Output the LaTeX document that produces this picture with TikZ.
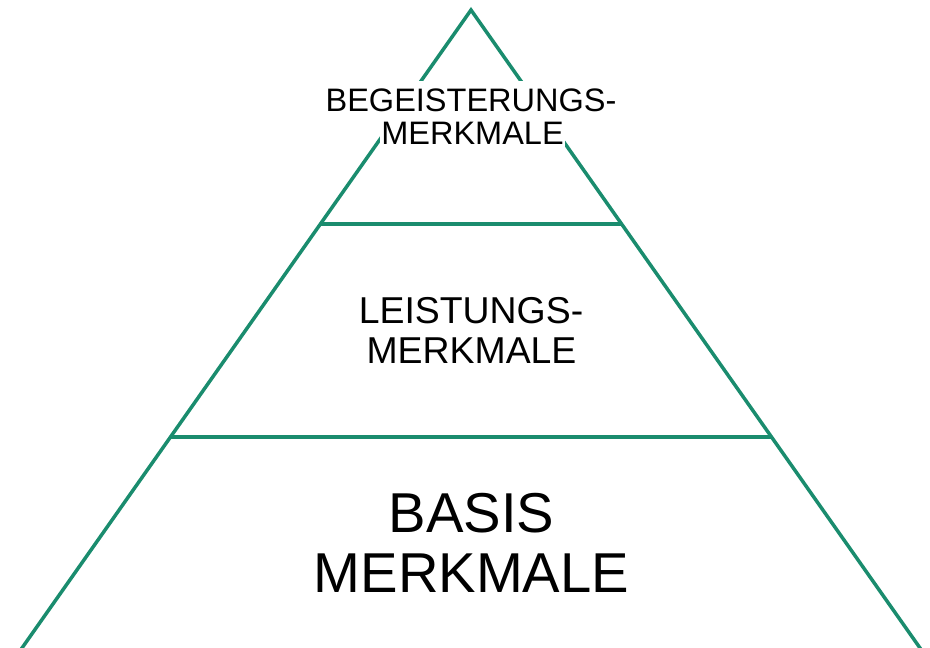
\documentclass[tikz,border=0pt]{standalone}
\usepackage{fontspec}
\setmainfont{Liberation Sans}
\usetikzlibrary{calc}
\definecolor{pyramidgreen}{RGB}{26,140,110}
\begin{document}
\begin{tikzpicture}[x=1pt,y=-1pt,
  edge/.style={draw=pyramidgreen,line width=3.5pt,line join=miter},
  toplabel/.style={anchor=base,fill=white,inner xsep=1pt,font=\fontsize{32.5}{34}\selectfont},
  midlabel/.style={anchor=base,inner sep=0pt,font=\fontsize{37.4}{40}\selectfont},
  baselabel/.style={anchor=base,inner sep=0pt,font=\fontsize{56.2}{59}\selectfont}]
  \useasboundingbox (0,0) rectangle (930,648);
  \clip (0,0) rectangle (930,648);
  % outline of the pyramid
  \coordinate (apex) at (471,10);
  \coordinate (bl) at (22,648);
  \coordinate (br) at (920,648);
  \coordinate (blx) at ($(apex)!1.05!(bl)$);
  \coordinate (brx) at ($(apex)!1.05!(br)$);
  \path[edge] (blx) -- (apex) -- (brx);
  % level separators
  \coordinate (l1) at ($(apex)!0.3354!(bl)$);
  \coordinate (r1) at ($(apex)!0.3354!(br)$);
  \coordinate (l2) at ($(apex)!0.6693!(bl)$);
  \coordinate (r2) at ($(apex)!0.6693!(br)$);
  \path[edge] (l1) -- (r1);
  \path[edge] (l2) -- (r2);
  % labels
  \node[toplabel,inner ysep=8pt] (top1) at (471,111.5) {BEGEISTERUNGS-};
  \node[toplabel,inner ysep=2pt] (top2) at (472.5,144.5) {MERKMALE};
  \node[midlabel] (mid1) at (471,323) {LEISTUNGS-};
  \node[midlabel] (mid2) at (471.5,363) {MERKMALE};
  \node[baselabel] (base1) at (471.5,532.5) {BASIS};
  \node[baselabel] (base2) at (471.5,592.5) {MERKMALE};
\end{tikzpicture}
\end{document}
